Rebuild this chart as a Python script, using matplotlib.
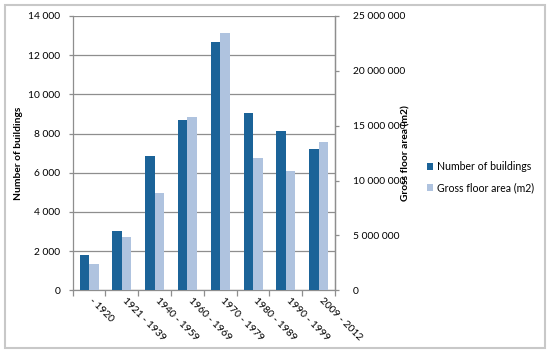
import matplotlib
matplotlib.use("Agg")
import matplotlib.pyplot as plt
from matplotlib.patches import Rectangle
from matplotlib.ticker import FuncFormatter
import matplotlib.transforms as mtransforms
import numpy as np

periods = ["- 1920", "1921 - 1939", "1940 - 1959", "1960 - 1969",
           "1970 - 1979", "1980 - 1989", "1990 - 1999", "2009 - 2012"]
num_buildings = [1800, 3010, 6870, 8690, 12650, 9060, 8110, 7235]
gross_floor_area = [2400000, 4860000, 8840000, 15820000,
                    23480000, 12030000, 10850000, 13560000]

left_ticks = [0, 2000, 4000, 6000, 8000, 10000, 12000, 14000]
right_ticks = [0, 5000000, 10000000, 15000000, 20000000, 25000000]

dark = "#1b6398"
light = "#afc3df"
grid_c = "#8e8e8e"
axis_c = "#8e8e8e"

plt.rcParams["font.family"] = ["Lato", "DejaVu Sans"]
fs = 7.4

fig = plt.figure(figsize=(5.5, 3.53), dpi=100)
ax = fig.add_axes([0.1322, 0.1776, 0.4769, 0.7771])
ax2 = ax.twinx()

x = np.arange(len(periods))
w = 0.29
ax.bar(x - w / 2, num_buildings, width=w, color=dark, zorder=3,
       label="Number of buildings")
ax2.bar(x + w / 2, gross_floor_area, width=w, color=light, zorder=3,
        label="Gross floor area (m2)")

ax.set_xlim(-0.5, len(periods) - 0.5)
ax.set_ylim(0, 14000)
ax2.set_ylim(0, 25000000)
ax.set_yticks(left_ticks)
ax2.set_yticks(right_ticks)

fmt = FuncFormatter(lambda v, p: f"{int(v):,}".replace(",", " "))
ax.yaxis.set_major_formatter(fmt)
ax2.yaxis.set_major_formatter(fmt)

ax.grid(axis="y", color=grid_c, linewidth=0.9, zorder=0)
ax.set_axisbelow(True)

for a in (ax, ax2):
    a.spines["top"].set_visible(False)
    for s in ("left", "right", "bottom"):
        a.spines[s].set_color(axis_c)
        a.spines[s].set_linewidth(0.9)
    a.tick_params(colors=axis_c, labelcolor="black", labelsize=fs,
                  length=3, width=0.9)
ax2.spines["left"].set_visible(False)
ax2.spines["bottom"].set_visible(False)

# x ticks at group boundaries; category labels drawn under group centres
ax.set_xticks(np.arange(-0.5, len(periods), 1.0))
ax.set_xticklabels([])
ax.tick_params(axis="x", which="major", length=4)
base = mtransforms.blended_transform_factory(ax.transData, ax.transAxes)
off = mtransforms.ScaledTranslation(5 / 100, -6 / 100, fig.dpi_scale_trans)
for i, lab in enumerate(periods):
    ax.text(x[i], 0, lab, transform=base + off, rotation=-45,
            rotation_mode="anchor", ha="left", va="top", fontsize=fs)

ax.tick_params(axis="y", pad=6)
ax2.tick_params(axis="y", pad=10)

ax.set_ylabel("Number of buildings", fontsize=fs, fontweight="bold")
ax2.set_ylabel("Gross floor area (m2)", fontsize=fs, fontweight="bold")
ax.yaxis.set_label_coords(-0.19, 0.5)
ax2.yaxis.set_label_coords(1.254, 0.5)

h1, l1 = ax.get_legend_handles_labels()
h2, l2 = ax2.get_legend_handles_labels()
fig.legend(h1 + h2, l1 + l2, loc="center left", bbox_to_anchor=(0.768, 0.498),
           frameon=False, fontsize=7.6, handlelength=0.6, handleheight=0.6,
           handletextpad=0.4, labelspacing=1.0, borderaxespad=0)

fig.patches.append(Rectangle((0.009, 0.014), 0.982, 0.972, transform=fig.transFigure,
                             fill=False, edgecolor="#c8c8c8", linewidth=1.5))

fig.savefig("out.png", dpi=100)
